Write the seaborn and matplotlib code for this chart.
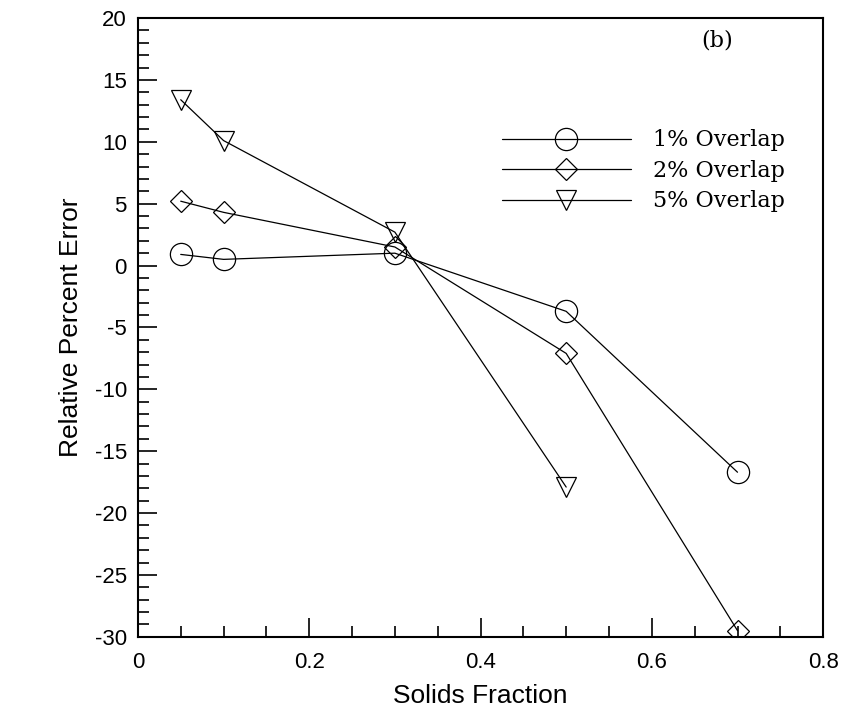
import numpy as np
import pandas as pd
import matplotlib
matplotlib.use("Agg")
import matplotlib.pyplot as plt
import seaborn as sns
from matplotlib.ticker import MultipleLocator, FuncFormatter

# datos
x_1 = [0.05, 0.1, 0.3, 0.5, 0.7]
y_1 = [0.9, 0.5, 1.0, -3.7, -16.7]
x_2 = [0.05, 0.1, 0.3, 0.5, 0.7]
y_2 = [5.2, 4.3, 1.5, -7.1, -29.5]
x_5 = [0.05, 0.1, 0.3, 0.5]
y_5 = [13.4, 10.1, 2.7, -17.9]
etiquetas = ["1% Overlap", "2% Overlap", "5% Overlap"]

sns.set_style("white")
plt.rcParams['font.family'] = ['Liberation Sans', 'DejaVu Sans']
plt.rcParams['axes.unicode_minus'] = False
plt.rcParams['text.color'] = 'black'
plt.rcParams['axes.labelcolor'] = 'black'
plt.rcParams['xtick.color'] = 'black'
plt.rcParams['ytick.color'] = 'black'

fig = plt.figure(figsize=(8.46, 7.22), dpi=100)
ax = fig.add_axes([0.163, 0.118, 0.81, 0.857])

series = [(x_1, y_1, 'o', 16), (x_2, y_2, 'D', 11), (x_5, y_5, 'v', 15)]
for (xs, ys, m, ms), lab in zip(series, etiquetas):
    df = pd.DataFrame({'x': xs, 'y': ys})
    sns.lineplot(data=df, x='x', y='y', ax=ax, color='black', linewidth=0.9,
                 marker=m, markersize=ms, markerfacecolor='none',
                 markeredgecolor='black', markeredgewidth=0.9, label=lab)

ax.set_xlim(0, 0.8)
ax.set_ylim(-30, 20)
ax.xaxis.set_major_locator(MultipleLocator(0.2))
ax.xaxis.set_minor_locator(MultipleLocator(0.05))
ax.yaxis.set_major_locator(MultipleLocator(5))
ax.yaxis.set_minor_locator(MultipleLocator(1))
ax.xaxis.set_major_formatter(FuncFormatter(lambda v, p: '0' if abs(v) < 1e-9 else f'{v:.1f}'))
ax.yaxis.set_major_formatter(FuncFormatter(lambda v, p: f'{v:.0f}'))
ax.tick_params(which='major', direction='in', length=14, width=1.2, labelsize=16,
               bottom=True, left=True)
ax.tick_params(axis='x', which='major', pad=11)
ax.tick_params(axis='y', which='major', pad=8)
ax.tick_params(which='minor', direction='in', length=8, width=1.2, bottom=True, left=True)
for s in ax.spines.values():
    s.set_color('black')
    s.set_linewidth(1.5)

ax.set_xlabel('Solids Fraction', fontsize=19, labelpad=8)
ax.set_ylabel('Relative Percent Error', fontsize=19, labelpad=8)

ax.text(0.845, 0.964, '(b)', transform=ax.transAxes, fontsize=16,
        ha='center', va='center', family=['DejaVu Serif'])
leg = ax.legend(loc='upper left', bbox_to_anchor=(0.531, 0.82), frameon=False,
                borderaxespad=0, borderpad=0,
                handlelength=5.8, handletextpad=1.0, labelspacing=0.38,
                prop={'family': 'DejaVu Serif', 'size': 16})

fig.savefig('out.png', dpi=100)
